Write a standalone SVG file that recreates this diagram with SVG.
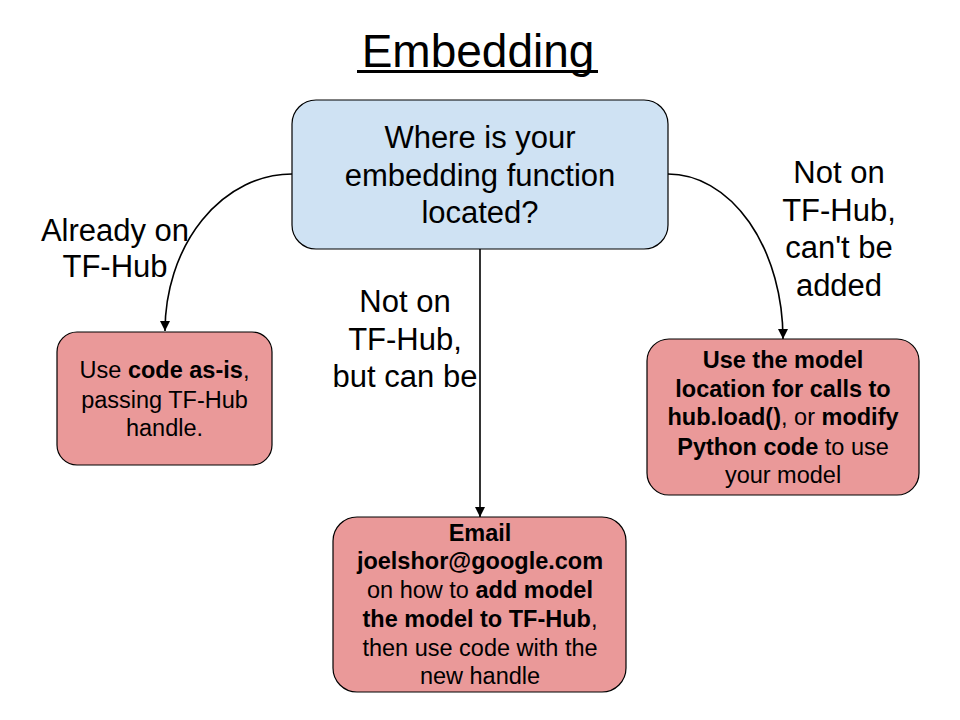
<svg xmlns="http://www.w3.org/2000/svg" width="960" height="720" viewBox="0 0 960 720">
<defs>
<marker id="arr" viewBox="0 0 10 10" refX="10" refY="5" markerWidth="10" markerHeight="10" markerUnits="userSpaceOnUse" orient="auto">
<path d="M0,0 L10,5 L0,10 z" fill="#000"/>
</marker>
</defs>
<style>
text{font-family:"Liberation Sans",Arial,sans-serif;fill:#000;text-anchor:middle}
.big{font-size:31px}
.sm{font-size:23.5px}
.b{font-weight:bold}
.blue{fill:#cfe2f3;stroke:#000;stroke-width:1.2}
.red{fill:#ea9999;stroke:#000;stroke-width:1.2}
.conn{fill:none;stroke:#000;stroke-width:1.6;marker-end:url(#arr)}
</style>
<rect width="960" height="720" fill="#fff"/>
<g id="title">
<text x="478" y="67" style="font-size:46px">Embedding</text>
<line x1="357" y1="71.5" x2="598" y2="71.5" stroke="#000" stroke-width="3"/>
</g>
<g id="connectors">
<path class="conn" d="M292,174 A127,157 0 0 0 165,331"/>
<path class="conn" d="M480,249 L480,517"/>
<path class="conn" d="M668,174 A115,165 0 0 1 783,339"/>
<text class="big" x="115" y="241">Already on</text>
<text class="big" x="115" y="277">TF-Hub</text>
<text class="big" x="405" y="312">Not on</text>
<text class="big" x="405" y="350">TF-Hub,</text>
<text class="big" x="405" y="387">but can be</text>
<text class="big" x="839" y="183">Not on</text>
<text class="big" x="839" y="221">TF-Hub,</text>
<text class="big" x="839" y="258">can't be</text>
<text class="big" x="839" y="296">added</text>
</g>
<g id="question">
<rect class="blue" x="292" y="100" width="376" height="149" rx="24"/>
<text class="big" x="480" y="148">Where is your</text>
<text class="big" x="480" y="186">embedding function</text>
<text class="big" x="480" y="223">located?</text>
</g>
<g id="as-is">
<rect class="red" x="57" y="332" width="215" height="133" rx="20"/>
<text class="sm" x="164.5" y="378">Use <tspan class="b">code as-is</tspan>,</text>
<text class="sm" x="164.5" y="408">passing TF-Hub</text>
<text class="sm" x="164.5" y="436">handle.</text>
</g>
<g id="email">
<rect class="red" x="333" y="517" width="293" height="175" rx="24"/>
<text class="sm b" x="480" y="541">Email</text>
<text class="sm b" x="480" y="569">joelshor@google.com</text>
<text class="sm" x="480" y="598">on how to <tspan class="b">add model</tspan></text>
<text class="sm" x="480" y="627"><tspan class="b">the model to TF-Hub</tspan>,</text>
<text class="sm" x="480" y="656">then use code with the</text>
<text class="sm" x="480" y="684">new handle</text>
</g>
<g id="own-model">
<rect class="red" x="647" y="339" width="272" height="156" rx="22"/>
<text class="sm b" x="783" y="368">Use the model</text>
<text class="sm b" x="783" y="397">location for calls to</text>
<text class="sm" x="783" y="425"><tspan class="b">hub.load()</tspan>, or <tspan class="b">modify</tspan></text>
<text class="sm" x="783" y="455"><tspan class="b">Python code</tspan> to use</text>
<text class="sm" x="783" y="483">your model</text>
</g>
</svg>
